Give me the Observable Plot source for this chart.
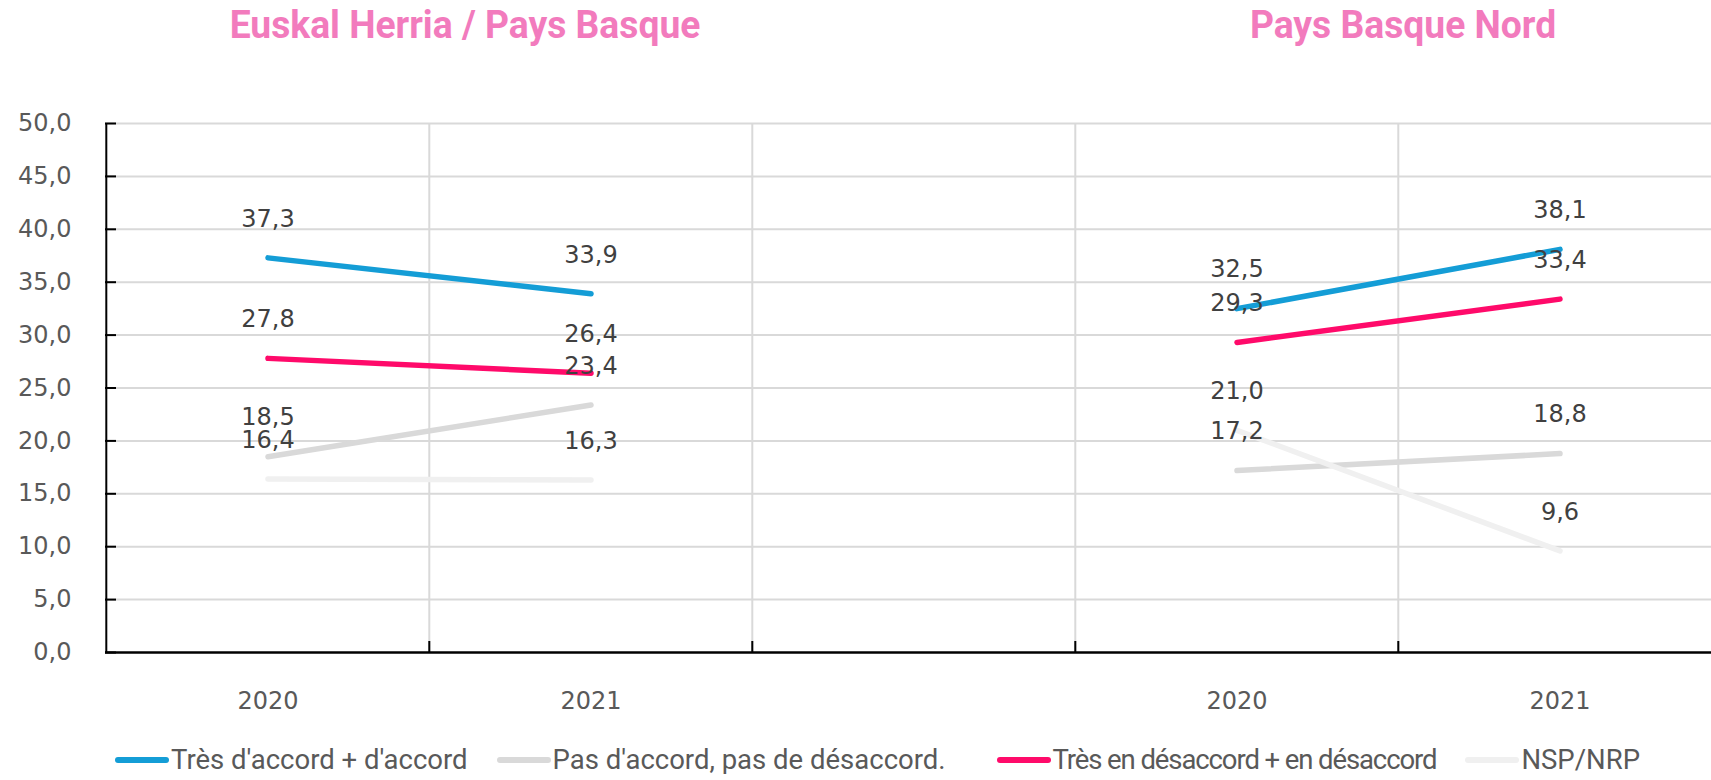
<!DOCTYPE html>
<html>
<head>
<meta charset="utf-8">
<script src="https://cdn.jsdelivr.net/npm/d3@7"></script>
<script src="https://cdn.jsdelivr.net/npm/@observablehq/plot@0.6"></script>
<style>
  html, body { margin: 0; padding: 0; background: #fff; }
  #wrap { width: 1711px; position: relative; }
  #header { position: relative; height: 80px; }
  .title { position: absolute; top: 6px; font-family: Roboto, sans-serif; font-weight: 700; font-size: 38px; line-height: 38px; color: #f27bbd; white-space: nowrap; transform: translateX(-50%) scaleX(0.98); }
  #legend { display: flex; align-items: center; margin-top: 26px; padding-left: 115px; font-family: Roboto, sans-serif; font-size: 27.5px; line-height: 28px; color: #595959; }
  .item { display: flex; align-items: center; white-space: nowrap; }
  .sw { width: 54px; height: 6px; border-radius: 3px; margin-right: 2px; }
</style>
</head>
<body>
<div id="wrap">
  <div id="header"></div>
  <div id="chart"></div>
  <div id="legend"></div>
</div>
<script>
// ---- data ----
const years = ["2020", "2021"];
const regions = ["EH", "PBN"];
const regionTitles = ["Euskal Herria / Pays Basque", "Pays Basque Nord"];
const xCategories = ["EH-2020", "EH-2021", "gap", "PBN-2020", "PBN-2021"];
const xTickLabels = ["2020", "2021", "", "2020", "2021"];
const yTicks = [0, 5, 10, 15, 20, 25, 30, 35, 40, 45, 50];
const seriesNames = [
  "Très d'accord + d'accord",
  "Pas d'accord, pas de désaccord.",
  "Très en désaccord + en désaccord",
  "NSP/NRP"
];
const accordEH = [37.3, 33.9];
const neutreEH = [18.5, 23.4];
const desaccordEH = [27.8, 26.4];
const nspEH = [16.4, 16.3];
const accordPBN = [32.5, 38.1];
const neutrePBN = [17.2, 18.8];
const desaccordPBN = [29.3, 33.4];
const nspPBN = [21.0, 9.6];

// ---- build table ----
const valuesByRegion = {
  EH: [accordEH, neutreEH, desaccordEH, nspEH],
  PBN: [accordPBN, neutrePBN, desaccordPBN, nspPBN]
};
const rows = [];
regions.forEach(r => seriesNames.forEach((s, si) => years.forEach((yr, yi) => {
  rows.push({region: r, series: s, key: r + "|" + s, x: r + "-" + yr, value: valuesByRegion[r][si][yi]});
})));
const fmt = v => v.toFixed(1).replace(".", ",");
const tickLabelOf = new Map(xCategories.map((c, i) => [c, xTickLabels[i]]));

// ---- layout ----
const W = 1711, H = 640, mL = 105, mR = -11, mT = 43, mB = 68;
const bw = (W - mL - mR) / xCategories.length;
const frameW = W - mL - mR, frameH = H - mT - mB;
const colors = ["#149dd6", "#d9d9d9", "#ff0a6a", "#f0f0f0"];
const grid = "#d9d9d9";

const chart = Plot.plot({
  width: W, height: H,
  marginLeft: mL, marginRight: mR, marginTop: mT, marginBottom: mB,
  style: {fontFamily: "DejaVu Sans, sans-serif", fontSize: "24px", color: "#595959", background: "#fff"},
  x: {type: "band", domain: xCategories, padding: 0, label: null},
  y: {domain: [0, 50], label: null},
  color: {domain: seriesNames, range: colors},
  marks: [
    Plot.ruleY(yTicks.slice(1), {stroke: grid, strokeWidth: 2}),
    Plot.ruleX(xCategories.slice(1), {dx: -bw / 2, y1: 0, y2: 50, stroke: grid, strokeWidth: 2}),
    Plot.ruleY(yTicks, {stroke: "#000", strokeWidth: 2, insetRight: frameW - 11}),
    Plot.ruleX(xCategories.slice(1), {dx: -bw / 2, stroke: "#000", strokeWidth: 2, insetTop: frameH - 11}),
    Plot.ruleX([xCategories[0]], {dx: -bw / 2, y1: 0, y2: 50, stroke: "#000", strokeWidth: 2}),
    Plot.ruleY([0], {stroke: "#000", strokeWidth: 2.5}),
    Plot.axisY(yTicks, {tickSize: 0, tickPadding: 34, tickFormat: fmt, fontSize: 24, fill: "#595959", label: null}),
    Plot.axisX({tickSize: 0, tickPadding: 39, tickFormat: d => tickLabelOf.get(d), fontSize: 24, fill: "#595959", label: null}),
    Plot.line(rows, {x: "x", y: "value", z: "key", stroke: "series", strokeWidth: 5.5, strokeLinecap: "round"}),
    Plot.text(rows, {x: "x", y: "value", text: d => fmt(d.value), dy: -39, fontSize: 24, fill: "#404040"})
  ]
});
document.getElementById("chart").appendChild(chart);

// ---- titles ----
const header = document.getElementById("header");
const titleCenters = [465, 1403];
regionTitles.forEach((t, i) => {
  const d = document.createElement("div");
  d.className = "title";
  d.style.left = titleCenters[i] + "px";
  d.textContent = t;
  header.appendChild(d);
});

// ---- legend ----
const legend = document.getElementById("legend");
const itemGaps = [29, 51, 29, 0];
const itemSpacing = [0, 0, -1.1, 0];
seriesNames.forEach((s, i) => {
  const it = document.createElement("div");
  it.className = "item";
  it.style.marginRight = itemGaps[i] + "px";
  const sw = document.createElement("span");
  sw.className = "sw";
  sw.style.background = colors[i];
  const tx = document.createElement("span");
  tx.textContent = s;
  tx.style.letterSpacing = itemSpacing[i] + "px";
  it.appendChild(sw);
  it.appendChild(tx);
  legend.appendChild(it);
});
</script>
</body>
</html>
